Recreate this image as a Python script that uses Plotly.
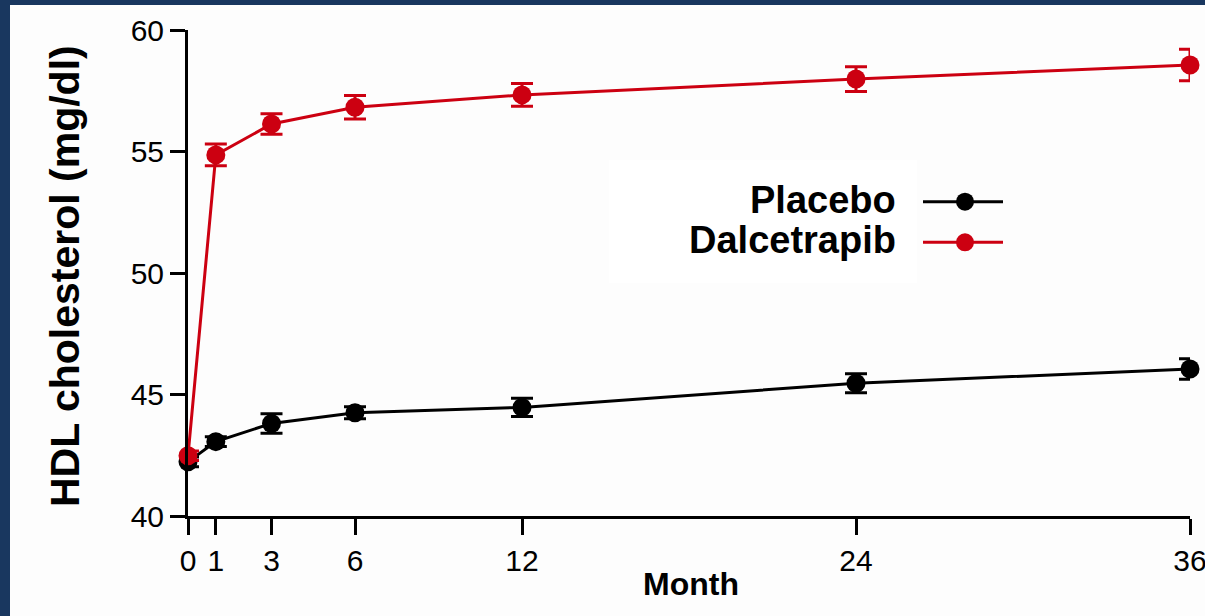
import plotly.graph_objects as go

# ---- data ----
months = [0, 1, 3, 6, 12, 24, 36]
placebo = [42.23, 43.06, 43.81, 44.25, 44.47, 45.46, 46.05]
placebo_err = [0.2, 0.2, 0.4, 0.25, 0.38, 0.39, 0.42]
dalcetrapib = [42.48, 54.86, 56.13, 56.82, 57.33, 57.98, 58.56]
dalcetrapib_err = [0.2, 0.45, 0.42, 0.48, 0.47, 0.51, 0.65]
x_ticks = [0, 1, 3, 6, 12, 24, 36]
y_ticks = [40, 45, 50, 55, 60]
series_names = ["Placebo", "Dalcetrapib"]

# ---- layout geometry (pixels) ----
W, H = 1205, 616
ML, MR, MT, MB = 188, 15, 30, 100
PW, PH = W - ML - MR, H - MT - MB

def px_x(p):
    return (p - ML) / PW

def px_y(p):
    return (H - MB - p) / PH

FONT = "Liberation Sans, Arial, Helvetica, sans-serif"
BLACK = "#000000"
RED = "#cc0011"
FRAME = "#19375f"
colors = [BLACK, RED]

fig = go.Figure()
for name, ys, es, c in zip(series_names, [placebo, dalcetrapib],
                           [placebo_err, dalcetrapib_err], colors):
    fig.add_trace(go.Scatter(
        x=months, y=ys, name=name, mode="lines+markers",
        line=dict(color=c, width=3),
        marker=dict(color=c, size=19, line=dict(width=0)),
        error_y=dict(type="data", array=es, visible=True, color=c,
                     thickness=3, width=11),
        cliponaxis=False, showlegend=False,
    ))

shapes = [
    # light page inside the dark blue frame
    dict(type="rect", xref="paper", yref="paper",
         x0=px_x(10), x1=px_x(W), y0=px_y(5), y1=px_y(H),
         fillcolor="#fdfdfd", line=dict(width=0), layer="below"),
    # white legend box
    dict(type="rect", xref="paper", yref="paper",
         x0=px_x(609), x1=px_x(917), y0=px_y(160), y1=px_y(283),
         fillcolor="#ffffff", line=dict(width=0), layer="below"),
]
annotations = []
legend_rows = [(201.7, 0), (242.3, 1)]
for ypx, i in legend_rows:
    c = colors[i]
    shapes.append(dict(type="line", xref="paper", yref="paper",
                       x0=px_x(923), x1=px_x(1003), y0=px_y(ypx), y1=px_y(ypx),
                       line=dict(color=c, width=3)))
    shapes.append(dict(type="circle", xref="paper", yref="paper",
                       x0=px_x(965 - 9), x1=px_x(965 + 9),
                       y0=px_y(ypx + 9), y1=px_y(ypx - 9),
                       fillcolor=c, line=dict(width=0)))
    annotations.append(dict(text=f"<b>{series_names[i]}</b>", xref="paper", yref="paper",
                            x=px_x(898), y=px_y(ypx - 2), xanchor="right", yanchor="middle",
                            showarrow=False, font=dict(family=FONT, size=38, color=BLACK)))

annotations.append(dict(text="<b>HDL cholesterol (mg/dl)</b>", xref="paper", yref="paper",
                        x=px_x(65), y=px_y(276), xanchor="center", yanchor="middle",
                        textangle=-90, showarrow=False,
                        font=dict(family=FONT, size=41, color=BLACK)))
annotations.append(dict(text="<b>Month</b>", xref="paper", yref="paper",
                        x=px_x(691), y=px_y(584), xanchor="center", yanchor="middle",
                        showarrow=False, font=dict(family=FONT, size=32, color=BLACK)))

fig.update_layout(
    width=W, height=H,
    margin=dict(l=ML, r=MR, t=MT, b=MB, pad=0, autoexpand=False),
    paper_bgcolor=FRAME, plot_bgcolor="rgba(0,0,0,0)",
    shapes=shapes, annotations=annotations, showlegend=False,
    font=dict(family=FONT, color=BLACK),
)
fig.update_xaxes(range=[0, 36], tickvals=x_ticks, ticktext=[str(t) for t in x_ticks],
                 showgrid=False, zeroline=False, showline=True, linecolor=BLACK,
                 linewidth=3, ticks="outside", ticklen=16, tickwidth=3, tickcolor=BLACK,
                 ticklabeloverflow="allow", automargin=False,
                 tickfont=dict(family=FONT, size=30, color=BLACK))
fig.update_yaxes(range=[40, 60], tickvals=y_ticks, ticktext=[str(t) for t in y_ticks],
                 showgrid=False, zeroline=False, showline=True, linecolor=BLACK,
                 linewidth=3, ticks="outside", ticklen=15, tickwidth=3, tickcolor=BLACK,
                 automargin=False,
                 tickfont=dict(family=FONT, size=30, color=BLACK))

fig.write_html("out.html", config={"displayModeBar": False},
               post_script="document.body.style.margin='0';document.body.style.overflow='hidden';")
